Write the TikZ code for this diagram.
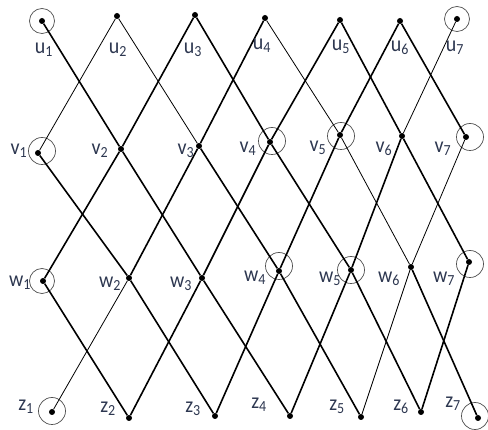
\documentclass[tikz,border=0pt]{standalone}
\usepackage{fontspec}
\setmainfont{Carlito}
\definecolor{labcol}{RGB}{45,55,80}
\definecolor{ringcol}{RGB}{80,80,80}
\begin{document}
\begin{tikzpicture}[x=1pt,y=-1pt,
  dot/.style={circle,fill=black,inner sep=0pt,minimum size=6pt},
  ring/.style={circle,draw=ringcol,line width=0.7pt,inner sep=0pt,minimum size=27pt},
  lab/.style={text=labcol,font=\fontsize{20}{23}\selectfont,inner sep=0pt,yscale=1.1},
  thk/.style={line width=1.6pt},
  thn/.style={line width=0.8pt}]
\useasboundingbox (0,0) rectangle (488,430);
% dots
\node[dot] (u1) at (42,21) {};
\node[dot] (u2) at (117,16) {};
\node[dot] (u3) at (195,15) {};
\node[dot] (u4) at (265,18) {};
\node[dot] (u5) at (340,20) {};
\node[dot] (u6) at (400,21) {};
\node[dot] (u7) at (457,19) {};
\node[dot] (v1) at (38,153) {};
\node[dot] (v2) at (121,149) {};
\node[dot] (v3) at (199,146) {};
\node[dot] (v4) at (270,142) {};
\node[dot] (v5) at (340,135) {};
\node[dot] (v6) at (402,136) {};
\node[dot] (v7) at (466,137) {};
\node[dot] (w1) at (43,281) {};
\node[dot] (w2) at (129,278) {};
\node[dot] (w3) at (202,278) {};
\node[dot] (w4) at (279,271) {};
\node[dot] (w5) at (351,270) {};
\node[dot] (w6) at (411,267) {};
\node[dot] (w7) at (469,262) {};
\node[dot] (z1) at (52,412) {};
\node[dot] (z2) at (129,418) {};
\node[dot] (z3) at (215,416) {};
\node[dot] (z4) at (290,416) {};
\node[dot] (z5) at (361,417) {};
\node[dot] (z6) at (421,412) {};
\node[dot] (z7) at (478,418) {};
% rings
\node[ring,minimum size=25pt] (cu1) at (u1) {};
\node[ring,minimum size=25pt] (cu7) at (u7) {};
\node[ring] (cv1) at (42,151) {};
\node[ring] (cv4) at (272,141) {};
\node[ring] (cv5) at (341,136) {};
\node[ring] (cv7) at (470,137) {};
\node[ring,minimum size=25pt] (cw1) at (42,281) {};
\node[ring] (cw4) at (279,266) {};
\node[ring] (cw5) at (351,270) {};
\node[ring] (cw7) at (470,264) {};
\node[ring] (cz1) at (52,411) {};
\node[ring] (cz7) at (475,416) {};
% edges u-v
\draw[thk] (u1) -- (v2);
\draw[thn] (u2) -- (v1);
\draw[thn] (u2) -- (v3);
\draw[thk] (u3) -- (v2);
\draw[thk] (u3) -- (v4);
\draw[thk] (u4) -- (v3);
\draw[thn] (u4) -- (v5);
\draw[thk] (u5) -- (v4);
\draw[thk] (u5) -- (v6);
\draw[thk] (u6) -- (v5);
\draw[thk] (u6) -- (v7);
\draw[thn] (u7) -- (v6);
% edges v-w
\draw[thk] (v1) -- (w2);
\draw[thk] (v2) -- (w1);
\draw[thk] (v2) -- (w3);
\draw[thk] (v3) -- (w2);
\draw[thk] (v3) -- (w4);
\draw[thk] (v4) -- (w3);
\draw[thk] (v4) -- (w5);
\draw[thk] (v5) -- (w4);
\draw[thn] (v5) -- (w6);
\draw[thk] (v6) -- (w5);
\draw[thk] (v6) -- (w7);
\draw[thn] (v7) -- (w6);
% edges w-z
\draw[thk] (w1) -- (z2);
\draw[thn] (w2) -- (z1);
\draw[thk] (w2) -- (z3);
\draw[thk] (w3) -- (z2);
\draw[thk] (w3) -- (z4);
\draw[thk] (w4) -- (z3);
\draw[thk] (w4) -- (z5);
\draw[thk] (w5) -- (z4);
\draw[thk] (w5) -- (z6);
\draw[thn] (w6) -- (z5);
\draw[thk] (w6) -- (z7);
\draw[thk] (w7) -- (z6);
% labels
\node[lab] (lu1) at (44,50) {u\textsubscript{1}};
\node[lab] (lu2) at (118,50) {u\textsubscript{2}};
\node[lab] (lu3) at (193,50) {u\textsubscript{3}};
\node[lab] (lu4) at (262,46) {u\textsubscript{4}};
\node[lab] (lu5) at (341,47) {u\textsubscript{5}};
\node[lab] (lu6) at (400,48) {u\textsubscript{6}};
\node[lab] (lu7) at (455,48) {u\textsubscript{7}};
\node[lab] (lv1) at (19,151) {v\textsubscript{1}};
\node[lab] (lv2) at (100,151) {v\textsubscript{2}};
\node[lab] (lv3) at (186,151) {v\textsubscript{3}};
\node[lab] (lv4) at (248,149) {v\textsubscript{4}};
\node[lab] (lv5) at (318,148) {v\textsubscript{5}};
\node[lab] (lv6) at (384,149) {v\textsubscript{6}};
\node[lab] (lv7) at (443,149) {v\textsubscript{7}};
\node[lab] (lw1) at (20,283) {w\textsubscript{1}};
\node[lab] (lw2) at (110,284) {w\textsubscript{2}};
\node[lab] (lw3) at (181,284) {w\textsubscript{3}};
\node[lab] (lw4) at (255,278) {w\textsubscript{4}};
\node[lab] (lw5) at (330,279) {w\textsubscript{5}};
\node[lab] (lw6) at (389,279) {w\textsubscript{6}};
\node[lab] (lw7) at (444,279) {w\textsubscript{7}};
\node[lab] (lz1) at (26,407) {z\textsubscript{1}};
\node[lab] (lz2) at (108,409) {z\textsubscript{2}};
\node[lab] (lz3) at (193,409) {z\textsubscript{3}};
\node[lab] (lz4) at (259,405) {z\textsubscript{4}};
\node[lab] (lz5) at (337,407) {z\textsubscript{5}};
\node[lab] (lz6) at (401,407) {z\textsubscript{6}};
\node[lab] (lz7) at (453,404) {z\textsubscript{7}};
\end{tikzpicture}
\end{document}
